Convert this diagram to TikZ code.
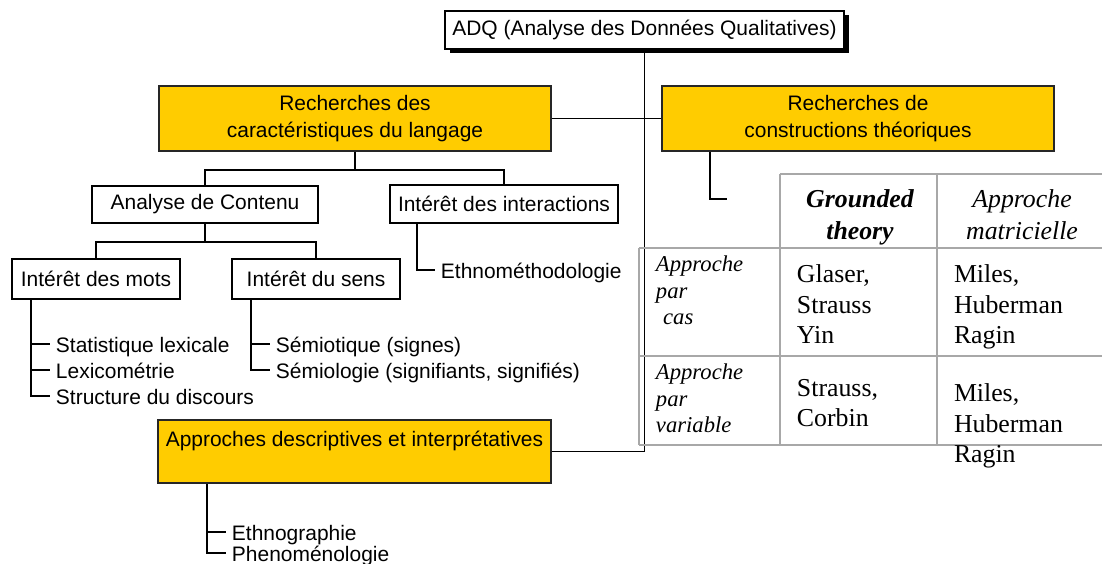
\documentclass[tikz,border=0pt]{standalone}
\usepackage{fontspec}
\setmainfont{Liberation Serif}
\setsansfont{Liberation Sans}
\usetikzlibrary{positioning}
\usetikzlibrary{shadows}
\definecolor{jaune}{HTML}{FFCC00}
\definecolor{grille}{HTML}{A8A8A8}
\def\boite{\sffamily\fontsize{14.9}{19.2}\selectfont}
\def\cellule{\rmfamily\fontsize{18.35}{21.7}\selectfont}
\def\entete{\rmfamily\itshape\fontsize{18.35}{22.8}\selectfont}
\def\ligne{\rmfamily\itshape\fontsize{16.1}{18.8}\selectfont}

\begin{document}
\begin{tikzpicture}[x=0.025cm,y=-0.025cm,line width=1.4pt,
	every node/.style={inner sep=0pt},
	cadre/.style={draw,fill=white,font=\boite,align=center},
	theme/.style={draw=black!85,fill=jaune,font=\boite,align=center,
		minimum width=9.8cm,minimum height=1.625cm},
	item/.style={font=\boite,anchor=west,inner xsep=0.125cm,
		text height=0.5cm,text depth=0.1cm},
	case/.style={anchor=north west,align=left,font=\cellule},
	titre/.style={anchor=north,align=center,font=\entete}]
	\useasboundingbox (0,0) rectangle (1102,564);
	
	\node[cadre,minimum width=9.975cm,minimum height=0.95cm,
		drop shadow={shadow xshift=0.125cm,shadow yshift=-0.1cm,fill=black,opacity=1}]
		(adq) at (644.5,30) {ADQ (Analyse des Données Qualitatives)};
	\node[theme] (langage) at (355,118.5) {Recherches des\\caractéristiques du langage};
	\node[theme] (theorie) at (858,118.5) {Recherches de\\constructions théoriques};
	\node[cadre,minimum width=5.65cm,minimum height=0.925cm] (contenu) at (205,204.5) {Analyse de Contenu};
	\node[cadre,minimum width=5.7cm,minimum height=0.95cm] (interactions) at (504,204) {Intérêt des interactions};
	\node[cadre,minimum width=4.2cm,minimum height=1cm] (mots) at (96,279) {Intérêt des mots};
	\node[cadre,minimum width=4.2cm,minimum height=1cm] (sens) at (316,279) {Intérêt du sens};
	\node[theme,minimum width=9.825cm,minimum height=1.575cm,
		text height=0.6625cm,text depth=0.9125cm] (approches) at (354.5,451.5) {Approches descriptives et interprétatives};
	
	% listes
	\node[item] (methodo) at (435,270) {Ethnométhodologie};
	\node[item] (statistique) at (50,344) {Statistique lexicale};
	\node[item,below=0.65cm of statistique.west,anchor=west] (lexico) {Lexicométrie};
	\node[item,below=0.65cm of lexico.west,anchor=west] (structure) {Structure du discours};
	\node[item] (semiotique) at (270,344) {Sémiotique (signes)};
	\node[item,below=0.65cm of semiotique.west,anchor=west] (semiologie) {Sémiologie (signifiants, signifiés)};
	\node[item] (ethnographie) at (226,532) {Ethnographie};
	\node[item,below=0.525cm of ethnographie.west,anchor=west] (phenomeno) {Phenoménologie};
	\coordinate (renvoi) at (727,199);
	
	\draw (adq.south) |- (approches.east);
	\draw (langage.east) -- (theorie.west);
	\draw (langage.south) -- ++(0,18) -| (contenu.north);
	\draw (langage.south) -- ++(0,18) -| (interactions.north);
	\draw (contenu.south) -- ++(0,18) -| (mots.north);
	\draw (contenu.south) -- ++(0,18) -| (sens.north);
	\draw ([xshift=1.225cm]theorie.south west) |- (renvoi);
	\draw ([xshift=0.7cm]interactions.south west) |- (methodo.west);
	\draw ([xshift=0.5cm]mots.south west) |- (structure.west);
	\foreach \n in {statistique,lexico}
		\draw ([xshift=0.5cm]mots.south west |- \n.west) -- (\n.west);
	\draw ([xshift=0.5cm]sens.south west) |- (semiologie.west);
	\draw ([xshift=0.5cm]sens.south west |- semiotique.west) -- (semiotique.west);
	\draw ([xshift=1.25cm]approches.south west) |- (phenomeno.west);
	\draw ([xshift=1.25cm]approches.south west |- ethnographie.west) -- (ethnographie.west);
	
	% tableau
	\draw[grille,line width=1.5pt] (780,174) -- (1102,174) (639,248) -- (1102,248)
		(639,356) -- (1102,356) (639,445) -- (1102,445)
		(639,248) -- (639,445) (780,174) -- (780,445) (937,174) -- (937,445);
	\node[titre,font=\entete\bfseries] (grounded) at (860,189) {Grounded\\theory};
	\node[titre] (matricielle) at (1022,189) {Approche\\matricielle};
	\node[case,font=\ligne] (cas) at (655,255) {Approche\\par\\\hspace*{0.18cm}cas};
	\node[case,font=\ligne] (variable) at (655,363) {Approche\\par\\variable};
	\node[case] (glaser) at (796,264) {Glaser,\\Strauss\\Yin};
	\node[case] (miles) at (953,264) {Miles,\\Huberman\\Ragin};
	\node[case] (corbin) at (796,378) {Strauss,\\Corbin};
	\node[case] (ragin) at (953,383) {Miles,\\Huberman\\Ragin};
\end{tikzpicture}
\end{document}
